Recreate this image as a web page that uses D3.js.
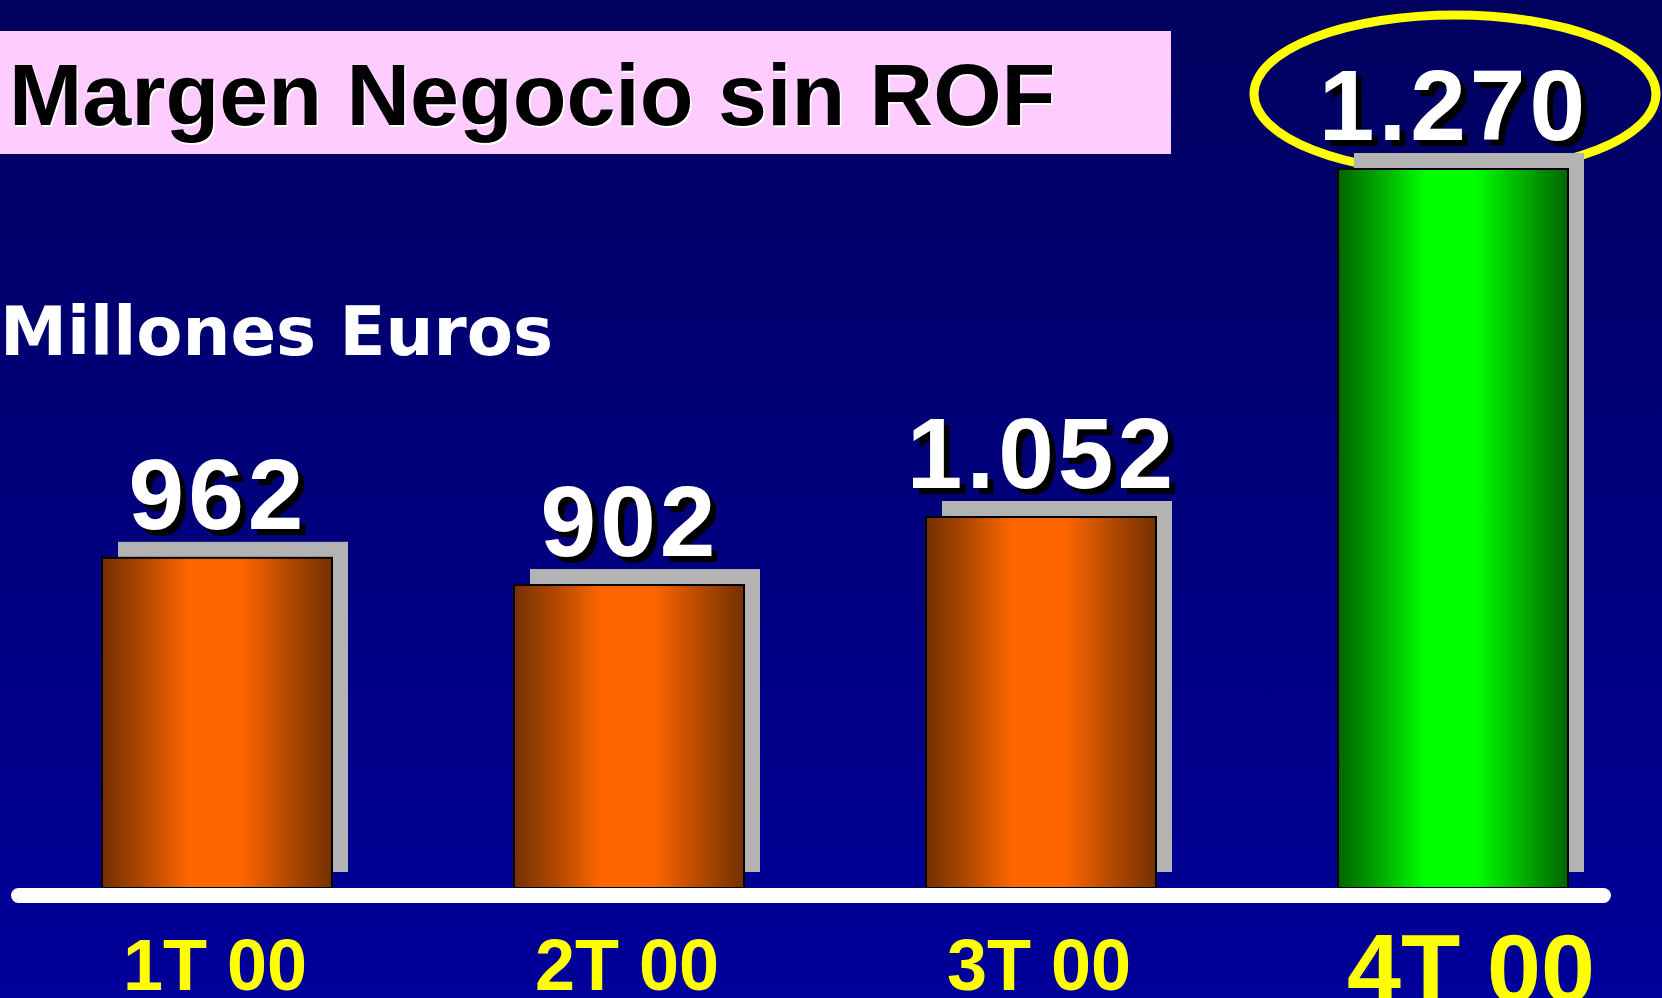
<!DOCTYPE html>
<html>
<head>
<meta charset="utf-8">
<script src="https://cdn.jsdelivr.net/npm/d3@7"></script>
<style>
  html, body { margin: 0; padding: 0; overflow: hidden; }
  svg { display: block; }
</style>
</head>
<body>
<script>
  'use strict'
  const w = 1662
  const h = 998

  const categories = ['1T 00', '2T 00', '3T 00', '4T 00']
  const values = [962, 902, 1052, 1270]
  const title = 'Margen Negocio sin ROF'
  const unit = 'Millones Euros'

  const esFormat = d3.formatLocale({ decimal: ',', thousands: '.', grouping: [3], currency: ['', ' €'] }).format(',')

  const baseY = 888
  const last = values.length - 1

  const x = d3.scaleBand()
    .domain(categories)
    .range([11, 1659])
    .paddingInner(0.4417)
    .paddingOuter(0.2209)

  // the slide is not to scale: the bars sit on a raised baseline and
  // the highlighted quarter is drawn taller still
  const y = d3.scaleLinear()
    .domain([234, d3.max(values.slice(0, last)), d3.max(values)])
    .range([baseY, baseY - 371, 169])

  const svg = d3.select('body').append('svg')
    .attr('width', w)
    .attr('height', h)

  const defs = svg.append('defs')

  const bg = defs.append('linearGradient')
    .attr('id', 'bg').attr('x1', 0).attr('y1', 0).attr('x2', 0).attr('y2', 1)
  bg.append('stop').attr('offset', '0%').attr('stop-color', '#00005e')
  bg.append('stop').attr('offset', '100%').attr('stop-color', '#00009a')

  function barGradient (id, dark, mid, light) {
    const g = defs.append('linearGradient')
      .attr('id', id).attr('x1', 0).attr('y1', 0).attr('x2', 1).attr('y2', 0)
    const stops = [[0, dark], [0.18, mid], [0.38, light], [0.6, light], [0.82, mid], [1, dark]]
    stops.forEach(s => g.append('stop').attr('offset', s[0]).attr('stop-color', s[1]))
  }
  barGradient('orange', '#743000', '#b04800', '#ff6600')
  barGradient('green', '#006400', '#00a800', '#00ff00')

  svg.append('rect')
    .attr('width', w).attr('height', h)
    .attr('fill', 'url(#bg)')

  // title box
  svg.append('rect')
    .attr('x', 0).attr('y', 31)
    .attr('width', 1171).attr('height', 123)
    .attr('fill', '#ffccff')

  const titleG = svg.append('g')
    .style('font-family', '"Liberation Sans", Arial, sans-serif')
    .style('font-weight', 'bold')
    .style('font-size', '88px')
  titleG.append('text').attr('x', 10.5).attr('y', 126.5).attr('fill', '#ffffff').text(title)
  titleG.append('text').attr('x', 9).attr('y', 125).attr('fill', '#000000').text(title)

  svg.append('text')
    .attr('x', 0).attr('y', 355)
    .style('font-family', '"DejaVu Sans", Verdana, sans-serif')
    .style('font-weight', 'bold')
    .style('font-size', '67px')
    .attr('textLength', 553)
    .attr('lengthAdjust', 'spacingAndGlyphs')
    .attr('fill', '#ffffff')
    .text(unit)

  // ring around the last value
  svg.append('ellipse')
    .attr('cx', x(categories[last]) + x.bandwidth() / 2 + 2)
    .attr('cy', y(values[last]) - 29 - 46)
    .attr('rx', 201)
    .attr('ry', 79)
    .attr('fill', 'none')
    .attr('stroke', '#ffff00')
    .attr('stroke-width', 9)

  const data = categories.map((c, i) => ({ cat: c, value: values[i], hi: i === last }))

  // gray shadows
  svg.append('g').selectAll('rect')
    .data(data)
    .enter().append('rect')
    .attr('x', d => x(d.cat) + 16)
    .attr('y', d => y(d.value) - 16)
    .attr('width', x.bandwidth())
    .attr('height', d => baseY - y(d.value))
    .attr('fill', '#b3b3b3')

  svg.append('g').selectAll('rect')
    .data(data)
    .enter().append('rect')
    .attr('x', d => x(d.cat))
    .attr('y', d => y(d.value))
    .attr('width', x.bandwidth())
    .attr('height', d => baseY - y(d.value))
    .attr('fill', d => d.hi ? 'url(#green)' : 'url(#orange)')
    .attr('stroke', '#000')
    .attr('stroke-width', 2)

  // white base line
  svg.append('rect')
    .attr('x', 11).attr('y', baseY)
    .attr('width', 1600).attr('height', 15)
    .attr('rx', 7.5)
    .attr('fill', '#ffffff')

  const labels = svg.append('g')
    .style('font-family', '"Liberation Sans", Arial, sans-serif')
    .style('font-weight', 'bold')
    .style('font-size', '100px')
    .style('letter-spacing', '4px')
    .attr('text-anchor', 'middle')

  labels.selectAll('text.sh')
    .data(data)
    .enter().append('text')
    .attr('class', 'sh')
    .attr('x', d => x(d.cat) + x.bandwidth() / 2 + 7)
    .attr('y', d => y(d.value) - 29 + 6)
    .attr('fill', '#000')
    .text(d => esFormat(d.value))

  labels.selectAll('text.fg')
    .data(data)
    .enter().append('text')
    .attr('class', 'fg')
    .attr('x', d => x(d.cat) + x.bandwidth() / 2 + 1)
    .attr('y', d => y(d.value) - 29)
    .attr('fill', '#fff')
    .text(d => esFormat(d.value))

  const cats = svg.append('g')
    .style('font-family', '"Liberation Sans", Arial, sans-serif')
    .style('font-weight', 'bold')
    .attr('text-anchor', 'middle')

  cats.selectAll('text')
    .data(data)
    .enter().append('text')
    .attr('x', d => x(d.cat) + x.bandwidth() / 2 + (d.hi ? 18 : -2))
    .attr('y', d => d.hi ? 1002 : 990)
    .style('font-size', d => d.hi ? '97px' : '72px')
    .attr('fill', '#ffff00')
    .text(d => d.cat)
</script>
</body>
</html>
